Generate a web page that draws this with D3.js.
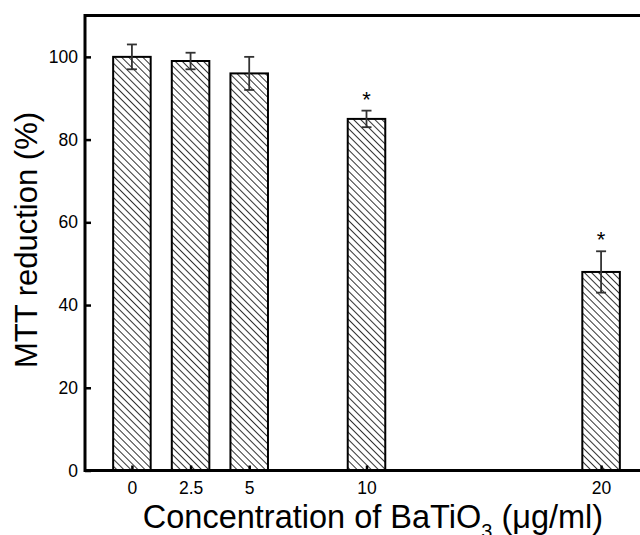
<!DOCTYPE html>
<html><head><meta charset="utf-8">
<script src="https://cdn.jsdelivr.net/npm/d3@7"></script>
<style>
html,body{margin:0;padding:0;background:#fff;overflow:hidden;}
svg{display:block;font-family:"Liberation Sans",Arial,sans-serif;}
</style></head>
<body>
<svg id="chart" width="640" height="535"></svg>
<script>
const concentrations = [0, 2.5, 5, 10, 20];
const tickLabels = ["0", "2.5", "5", "10", "20"];
const mttValues = [100, 99, 96, 85, 48];
const mttErrors = [3, 2, 4, 2, 5];
const significant = [false, false, false, true, true];
const yTicks = [0, 20, 40, 60, 80, 100];

(function(){
const svg = d3.select("#chart");
const mL = 85, mR = 648, mT = 15.5, mB = 470.5;
const x = d3.scaleLinear().domain([-2, 22]).range([mL, mR]);
const y = d3.scaleLinear().domain([0, 110]).range([mB, mT]);
const barW = x(1.6) - x(0);

const defs = svg.append("defs");
const pat = defs.append("pattern").attr("id","hatch").attr("patternUnits","userSpaceOnUse")
  .attr("width",5).attr("height",5).attr("patternTransform","rotate(-45)");
pat.append("rect").attr("width",5).attr("height",5).attr("fill","#fff");
pat.append("line").attr("x1",0).attr("y1",0).attr("x2",0).attr("y2",5)
  .attr("stroke","#000").attr("stroke-width",1.6);

const data = concentrations.map((c,i)=>({c, v:mttValues[i], e:mttErrors[i], s:significant[i]}));

svg.append("g").selectAll("rect").data(data).join("rect")
  .attr("x", d=>x(d.c)-barW/2).attr("y", d=>y(d.v))
  .attr("width", barW).attr("height", d=>y(0)-y(d.v))
  .attr("fill","url(#hatch)").attr("stroke","#000").attr("stroke-width",2);

const eg = svg.append("g").attr("stroke","#333").attr("stroke-width",1.8);
data.forEach(d=>{
  const cx = x(d.c);
  eg.append("line").attr("x1",cx).attr("x2",cx).attr("y1",y(d.v+d.e)).attr("y2",y(d.v-d.e));
  eg.append("line").attr("x1",cx-5).attr("x2",cx+5).attr("y1",y(d.v+d.e)).attr("y2",y(d.v+d.e));
  eg.append("line").attr("x1",cx-5).attr("x2",cx+5).attr("y1",y(d.v-d.e)).attr("y2",y(d.v-d.e));
});

svg.append("g").selectAll("text").data(data.filter(d=>d.s)).join("text")
  .attr("x", d=>x(d.c)).attr("y", d=>y(d.v+d.e)-4)
  .attr("text-anchor","middle").attr("font-size",22).attr("fill","#000").text("*");

const xAxis = d3.axisBottom(x).tickValues(concentrations)
  .tickFormat((d,i)=>tickLabels[i]).tickSizeInner(-5).tickSizeOuter(0).tickPadding(11);
const gx = svg.append("g").attr("transform",`translate(0,${mB})`).call(xAxis);
const yAxis = d3.axisLeft(y).tickValues(yTicks).tickSizeInner(-6).tickSizeOuter(0).tickPadding(7);
const gy = svg.append("g").attr("transform",`translate(${mL},0)`).call(yAxis);
[gx,gy].forEach(g=>{
  g.select(".domain").remove();
  g.selectAll(".tick line").attr("stroke","#000").attr("stroke-width",2.5);
  g.selectAll(".tick text").attr("font-size",17.5).attr("fill","#000")
   .attr("font-family","Liberation Sans, Arial, sans-serif");
});

svg.append("rect").attr("x",mL).attr("y",mT).attr("width",mR-mL).attr("height",mB-mT)
  .attr("fill","none").attr("stroke","#000").attr("stroke-width",3);

const xt = svg.append("text").attr("x",373).attr("y",528).attr("text-anchor","middle")
  .attr("font-size",32.5).attr("fill","#000");
xt.append("tspan").text("Concentration of BaTiO");
xt.append("tspan").attr("font-size",20).attr("dy",10).text("3");
xt.append("tspan").attr("dy",-10).text(" (μg/ml)");

svg.append("text").attr("transform","translate(37,240) rotate(-90)").attr("text-anchor","middle")
  .attr("font-size",31).attr("fill","#000").text("MTT reduction (%)");
})();
</script>
</body></html>
